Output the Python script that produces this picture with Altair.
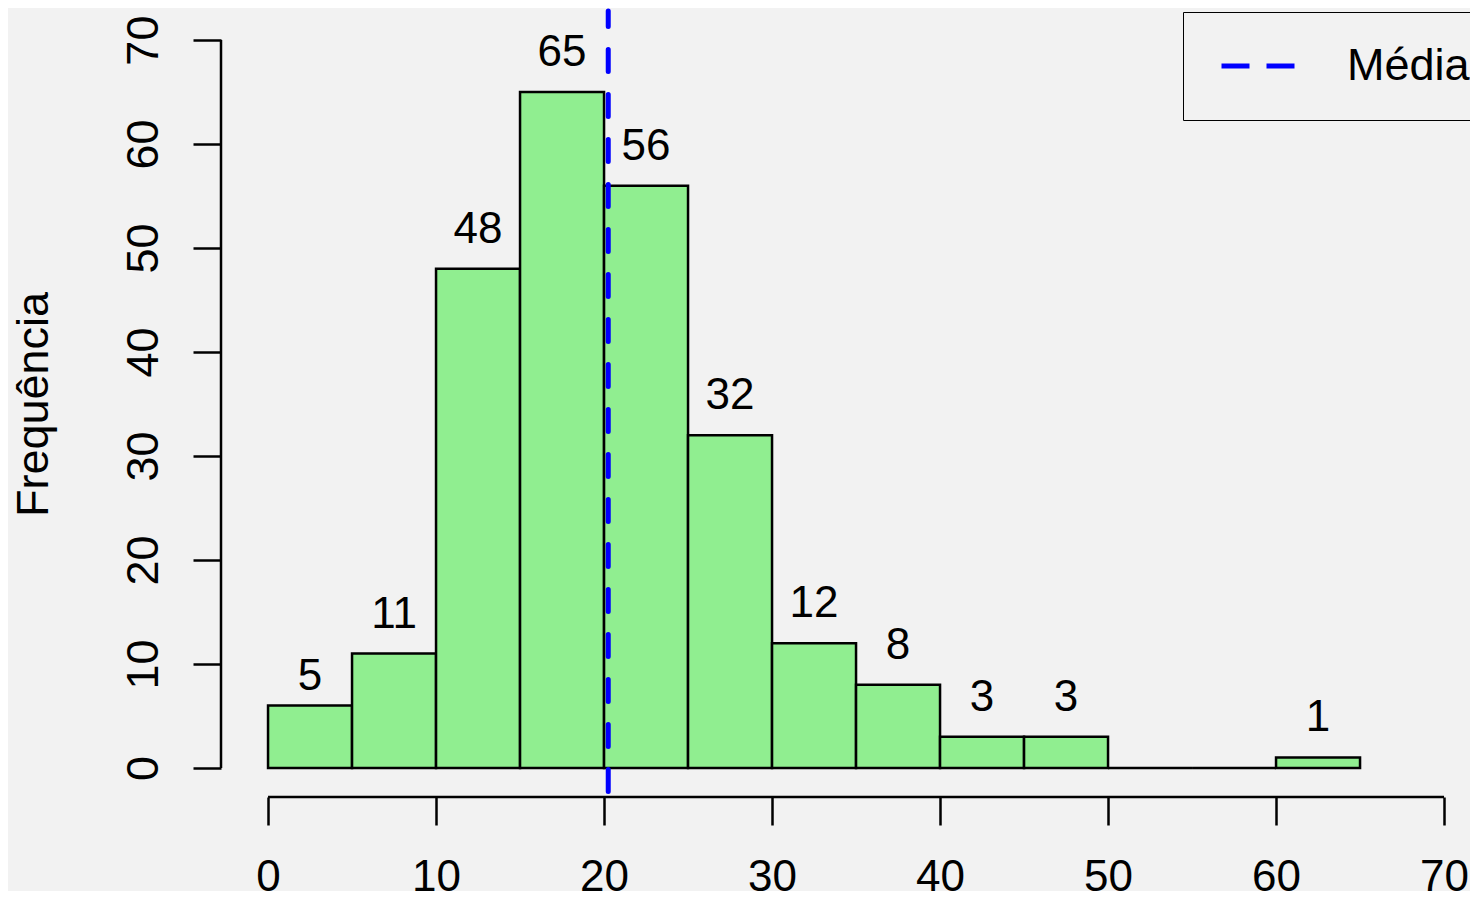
import altair as alt
import pandas as pd

# ---- data ----
bin_start = [0, 5, 10, 15, 20, 25, 30, 35, 40, 45, 50, 55, 60]
bin_end = [5, 10, 15, 20, 25, 30, 35, 40, 45, 50, 55, 60, 65]
counts = [6, 11, 48, 65, 56, 32, 12, 8, 3, 3, 0, 0, 1]
bar_labels = [5, 11, 48, 65, 56, 32, 12, 8, 3, 3, None, None, 1]
mean_value = 20.25
mean_label = "Média"
x_ticks = [0, 10, 20, 30, 40, 50, 60, 70]
y_ticks = [0, 10, 20, 30, 40, 50, 60, 70]
x_axis_span = [0, 70]
y_axis_span = [0, 70]

FONT = "Liberation Sans"
W, H = 1249, 786
XD = [-2.8, -2.8 + W / 16.8]
YD = [-2.8, 72.8]

bars_df = pd.DataFrame({"start": bin_start, "end": bin_end, "count": counts})
bars_df["mid"] = (bars_df["start"] + bars_df["end"]) / 2
lab_df = pd.DataFrame({"mid": bars_df["mid"], "lab": bar_labels}).dropna()
lab_df["txt"] = lab_df["lab"].astype(int).astype(str)
mean_df = pd.DataFrame({"mean": [mean_value], "name": [mean_label]})
xax_df = pd.DataFrame({"a": [x_axis_span[0]], "b": [x_axis_span[1]]})
yax_df = pd.DataFrame({"a": [y_axis_span[0]], "b": [y_axis_span[1]]})

xscale = alt.Scale(domain=XD, nice=False, zero=False)
yscale = alt.Scale(domain=YD, nice=False, zero=False)

x_axis = alt.Axis(
    values=x_ticks, domain=False, grid=False, title=None,
    tickSize=28, tickWidth=2.5, tickColor="black",
    labelFont=FONT, labelFontSize=44, labelColor="black",
    labelPadding=30, labelAlign="center", labelBaseline="top",
    labelFlush=False, labelOverlap=False,
)
y_axis = alt.Axis(
    values=y_ticks, domain=False, grid=False, title="Frequência",
    tickSize=28, tickWidth=2.5, tickColor="black",
    labelFont=FONT, labelFontSize=45, labelColor="black",
    labelAngle=270, labelPadding=36, labelAlign="center",
    labelBaseline="alphabetic", labelFlush=False, labelOverlap=False,
    titleFont=FONT, titleFontSize=45, titleFontWeight="normal",
    titleColor="black", titleAngle=270, titleAlign="center",
    titleBaseline="alphabetic", titleX=-174, titleY=393,
)

bars = alt.Chart(bars_df).mark_rect(
    fill="#90EE90", stroke="black", strokeWidth=2.5
).encode(
    x=alt.X("start:Q", scale=xscale, axis=x_axis),
    x2="end:Q",
    y=alt.Y("count:Q", scale=yscale, axis=y_axis),
    y2=alt.datum(0),
)

labels = alt.Chart(lab_df).mark_text(
    font=FONT, fontSize=44, color="black", baseline="alphabetic",
    align="center", dy=-26
).encode(
    x=alt.X("mid:Q", scale=xscale),
    y=alt.Y("lab:Q", scale=yscale),
    text="txt:N",
)

mean_rule = alt.Chart(mean_df).mark_rule(
    strokeWidth=5, strokeDash=[22, 23], strokeCap="round", strokeDashOffset=6.5
).encode(
    x=alt.X("mean:Q", scale=xscale),
    y=alt.value(0),
    y2=alt.value(H),
    color=alt.Color(
        "name:N",
        scale=alt.Scale(range=["blue"]),
        legend=alt.Legend(
            title=None, orient="none", legendX=962, legendY=1,
            padding=23, strokeColor="black", clipHeight=62,
            symbolType="stroke", symbolSize=5329, symbolStrokeWidth=5,
            symbolDash=[28, 17], symbolStrokeColor="blue",
            symbolOffset=13, labelOffset=50,
            labelFont=FONT, labelFontSize=45, labelColor="black",
        ),
    ),
)

xline = alt.Chart(xax_df).mark_rule(color="black", strokeWidth=2.5).encode(
    x=alt.X("a:Q", scale=xscale), x2="b:Q", y=alt.value(H)
)
yline = alt.Chart(yax_df).mark_rule(color="black", strokeWidth=2.5).encode(
    y=alt.Y("a:Q", scale=yscale), y2="b:Q", x=alt.value(0)
)

chart = alt.layer(bars, labels, mean_rule, xline, yline).properties(
    width=W, height=H,
    padding={"left": 213, "top": 3, "right": 0, "bottom": 94},
    autosize=alt.AutoSizeParams(type="none"),
).configure(background="#f2f2f2").configure_view(stroke=None)

chart.save("out.html", embed_options={"renderer": "svg", "actions": False})
